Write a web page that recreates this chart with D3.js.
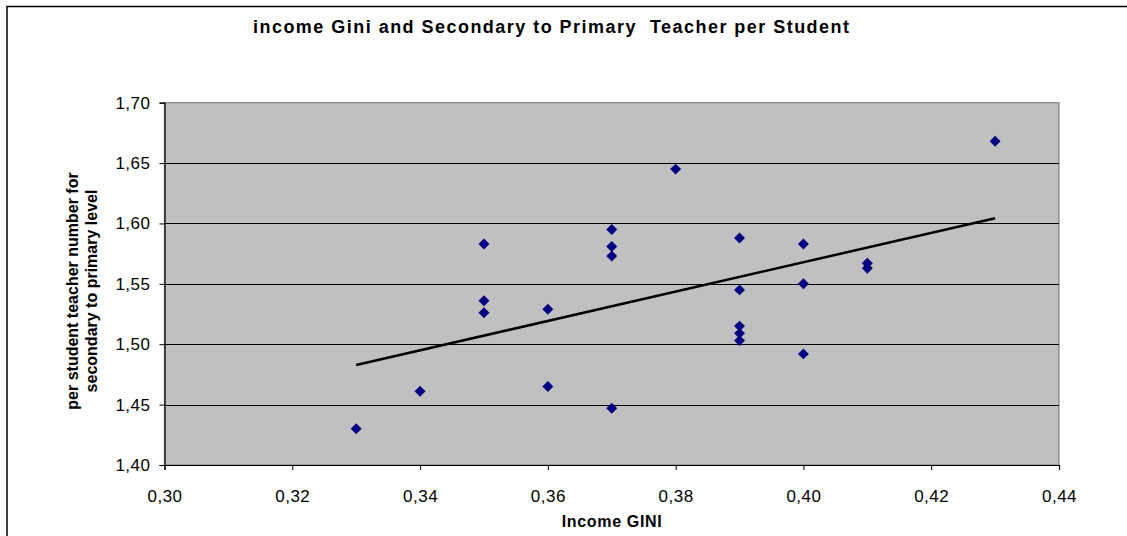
<!DOCTYPE html>
<html>
<head>
<meta charset="utf-8">
<script src="https://cdn.jsdelivr.net/npm/d3@7"></script>
<style>
  html, body { margin: 0; padding: 0; background: #fff; }
  svg { display: block; font-family: Arial, "Liberation Sans", sans-serif; }
</style>
</head>
<body>
<svg id="chart" width="1127" height="536"></svg>
<script>
// Income Gini (x) vs. per-student teacher number ratio, secondary to primary (y)
const giniValues = [0.33, 0.34, 0.35, 0.35, 0.35, 0.36, 0.36, 0.37, 0.37, 0.37, 0.37, 0.38,
                    0.39, 0.39, 0.39, 0.39, 0.39, 0.40, 0.40, 0.40, 0.41, 0.41, 0.43];
const ratioValues = [1.430, 1.461, 1.583, 1.536, 1.526, 1.529, 1.465, 1.595, 1.581, 1.573, 1.447, 1.645,
                     1.588, 1.545, 1.515, 1.509, 1.503, 1.583, 1.550, 1.492, 1.567, 1.563, 1.668];
const xTicks = [0.30, 0.32, 0.34, 0.36, 0.38, 0.40, 0.42, 0.44];
const yTicks = [1.40, 1.45, 1.50, 1.55, 1.60, 1.65, 1.70];

const titleText = "income Gini and Secondary to Primary  Teacher per Student";
const xTitle = "Income GINI";
const yTitleLines = ["per student teacher number for", "secondary to primary level"];

const svg = d3.select("#chart");
const plot = { left: 164.5, right: 1059, top: 102.7, bottom: 465 };

const x = d3.scaleLinear().domain([0.30, 0.44]).range([plot.left, plot.right]);
const y = d3.scaleLinear().domain([1.40, 1.70]).range([plot.bottom, plot.top]);
const fmt = d => d3.format(".2f")(d).replace(".", ",");

// outer frame
svg.append("path")
  .attr("d", `M7,536 V6.5 H1127`)
  .attr("fill", "none").attr("stroke", "#000").attr("stroke-width", 1.5);

// plot background
svg.append("rect")
  .attr("x", plot.left).attr("y", plot.top)
  .attr("width", plot.right - plot.left).attr("height", plot.bottom - plot.top)
  .attr("fill", "#c0c0c0").attr("stroke", "#808080").attr("stroke-width", 1.2);

// horizontal gridlines
svg.append("g").selectAll("line")
  .data(yTicks.filter(t => t > 1.40 && t < 1.70))
  .join("line")
  .attr("x1", plot.left).attr("x2", plot.right)
  .attr("y1", d => Math.round(y(d)) + 0.5).attr("y2", d => Math.round(y(d)) + 0.5)
  .attr("stroke", "#000").attr("stroke-width", 1);

// axes
const xAxis = svg.append("g")
  .attr("transform", `translate(0,${plot.bottom})`)
  .call(d3.axisBottom(x).tickValues(xTicks).tickFormat(fmt).tickSize(5).tickPadding(20));
const yAxis = svg.append("g")
  .attr("transform", `translate(${plot.left},0)`)
  .call(d3.axisLeft(y).tickValues(yTicks).tickFormat(fmt).tickSize(5).tickPadding(9));
[xAxis, yAxis].forEach(g => {
  g.select(".domain").attr("stroke", "#000").attr("stroke-width", 1.2);
  g.selectAll(".tick line").attr("stroke", "#000");
  g.selectAll(".tick text").attr("fill", "#000").attr("font-size", 17)
    .attr("letter-spacing", 0.5)
    .attr("font-family", "Arial, 'Liberation Sans', sans-serif");
});

// least-squares trend line over the data range
const n = giniValues.length;
const mx = d3.mean(giniValues), my = d3.mean(ratioValues);
let sxy = 0, sxx = 0;
for (let i = 0; i < n; i++) {
  sxy += (giniValues[i] - mx) * (ratioValues[i] - my);
  sxx += (giniValues[i] - mx) ** 2;
}
const slope = sxy / sxx, intercept = my - slope * mx;
const [x0, x1] = d3.extent(giniValues);
svg.append("line")
  .attr("x1", x(x0)).attr("y1", y(intercept + slope * x0))
  .attr("x2", x(x1)).attr("y2", y(intercept + slope * x1))
  .attr("stroke", "#000").attr("stroke-width", 2.5);

// data points (diamonds)
const diamond = d3.symbol().type(d3.symbolSquare).size(60);
svg.append("g").selectAll("path")
  .data(giniValues.map((g, i) => [g, ratioValues[i]]))
  .join("path")
  .attr("d", diamond)
  .attr("transform", d => `translate(${x(d[0])},${y(d[1])}) rotate(45)`)
  .attr("fill", "#000080");

// titles
svg.append("text")
  .attr("x", 551).attr("y", 33)
  .attr("text-anchor", "middle").attr("font-weight", "bold").attr("font-size", 18)
  .attr("textLength", 596).attr("lengthAdjust", "spacing")
  .style("white-space", "pre")
  .text(titleText);

svg.append("text")
  .attr("x", (plot.left + plot.right) / 2).attr("y", 527)
  .attr("text-anchor", "middle").attr("font-weight", "bold").attr("font-size", 16)
  .attr("textLength", 100).attr("lengthAdjust", "spacing")
  .text(xTitle);

const yt = svg.append("text")
  .attr("transform", `translate(78,291) rotate(-90)`)
  .attr("text-anchor", "middle").attr("font-weight", "bold").attr("font-size", 16);
yTitleLines.forEach((line, i) => {
  yt.append("tspan").attr("x", 0).attr("dy", i === 0 ? 0 : 19).text(line);
});
</script>
</body>
</html>
